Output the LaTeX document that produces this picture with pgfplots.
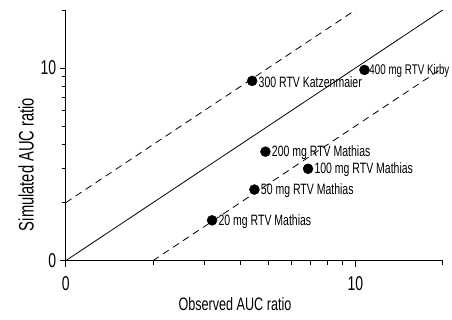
\documentclass[border=0pt]{standalone}
\usepackage{fontspec}
\setmainfont{Liberation Sans}[FakeStretch=0.7]
\usepackage{pgfplots}
\pgfplotsset{compat=1.18}
\begin{document}
\begin{tikzpicture}
\path[use as bounding box] (-65.7pt,-59.3pt) rectangle (386.3pt,260.7pt);
\begin{axis}[
  at={(0pt,0pt)}, anchor=south west,
  width=377pt, height=250.7pt, scale only axis,
  xmode=log, ymode=log,
  xmin=1, xmax=20, ymin=1, ymax=20,
  axis lines=left,
  axis line style={-, line width=1pt},
  tick align=outside,
  xtick={1,10}, xticklabels={0,10},
  ytick={1,10}, yticklabels={0,10},
  minor xtick={2,3,4,5,6,7,8,9,20},
  minor ytick={2,3,4,5,6,7,8,9,20},
  major tick length=6pt, minor tick length=4pt,
  tick style={black, line width=0.8pt},
  ticklabel style={font=\fontsize{20}{22}\selectfont},
  xticklabel style={yshift=-6pt},
  xlabel={Observed AUC ratio},
  ylabel={Simulated AUC ratio},
  xlabel style={font=\fontsize{18}{20}\selectfont, at={(ticklabel cs:0.449)}},
  ylabel style={font=\fontsize{21}{23}\selectfont, at={(ticklabel cs:0.384)}},
  clip=false,
]
\addplot[only marks, mark=*, mark size=5pt, black,
  nodes near coords, point meta=explicit symbolic,
  nodes near coords style={anchor=west, font=\fontsize{15}{17}\selectfont, xshift=3pt, yshift=-1pt, text=black}]
  coordinates {
    (4.40,8.57) [300 RTV Katzenmaier]
    (4.89,3.68) [200 mg RTV Mathias]
    (6.86,3.00) [100 mg RTV Mathias]
    (4.48,2.34) [50 mg RTV Mathias]
    (3.20,1.62) [20 mg RTV Mathias]
  };
\addplot[only marks, mark=*, mark size=5pt, black,
  nodes near coords, point meta=explicit symbolic,
  nodes near coords style={anchor=west, font=\fontsize{14}{16}\selectfont, xshift=1.5pt, yshift=-1pt, text=black}]
  coordinates {
    (10.74,9.77) [400 mg RTV Kirby]
  };
\addplot[black, line width=0.8pt] coordinates {(1,1) (20,20)};
\addplot[black, line width=0.8pt, dash pattern=on 7pt off 5pt] coordinates {(1,2) (10,20)};
\addplot[black, line width=0.8pt, dash pattern=on 7pt off 5pt] coordinates {(2,1) (20,10)};
\end{axis}
\end{tikzpicture}
\end{document}
